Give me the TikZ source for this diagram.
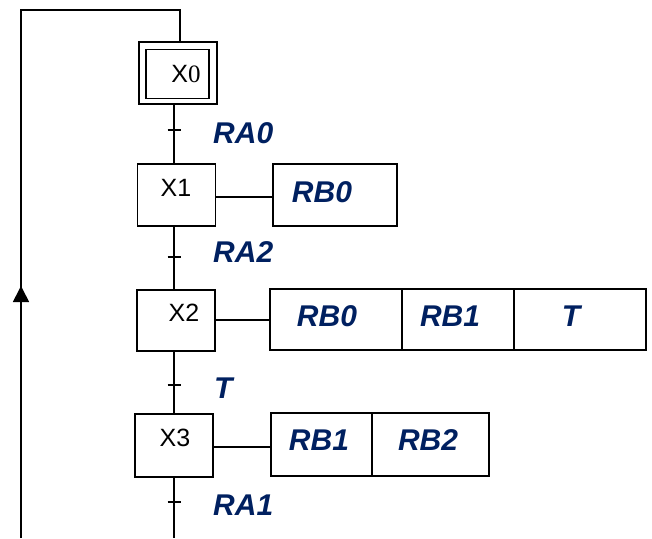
\documentclass[tikz,border=0pt]{standalone}
\usepackage{fontspec}
\setmainfont{Liberation Sans}
\newfontfamily\serifnum{Liberation Serif}
\usetikzlibrary{arrows.meta,calc}
\definecolor{navy}{RGB}{0,32,96}
\begin{document}
\begin{tikzpicture}[x=1pt,y=-1pt,
  box/.style={draw,line width=1.8pt,rectangle,inner sep=0pt},
  wire/.style={line width=1.7pt},
  steplbl/.style={font=\fontsize{25}{25}\selectfont,inner sep=0pt,anchor=center},
  cond/.style={font=\fontsize{30}{30}\selectfont\bfseries\itshape,text=navy,inner sep=0pt,anchor=west},
  act/.style={font=\fontsize{30}{30}\selectfont\bfseries\itshape,text=navy,inner sep=0pt,anchor=center}]
\useasboundingbox (0,0) rectangle (652,538);
% steps
\node[box,minimum width=78pt,minimum height=62pt] (x0o) at (178,73) {};
\node[box,minimum width=63pt,minimum height=49pt] (x0i) at (177.5,74) {};
\node[steplbl] (x0t) at (186,74) {X\serifnum 0};
\node[box,minimum width=78pt,minimum height=62pt] (x1) at (176.5,195) {};
\node[steplbl] (x1t) at (176,188) {X1};
\node[box,minimum width=78pt,minimum height=61pt] (x2) at (176,320.5) {};
\node[steplbl] (x2t) at (184,313) {X2};
\node[box,minimum width=78pt,minimum height=63pt] (x3) at (174,445.5) {};
\node[steplbl] (x3t) at (175,438) {X3};
% actions
\node[box,minimum width=124pt,minimum height=62pt] (a1) at (335,195) {};
\node[act] (a1t) at (322,192) {RB0};
\node[box,minimum width=132pt,minimum height=61pt] (a2a) at (336,319.5) {};
\node[box,minimum width=112pt,minimum height=61pt] (a2b) at (458,319.5) {};
\node[box,minimum width=132pt,minimum height=61pt] (a2c) at (580,319.5) {};
\node[act] (a2at) at (327,316) {RB0};
\node[act] (a2bt) at (450,316) {RB1};
\node[act] (a2ct) at (571,316) {T};
\node[box,minimum width=101pt,minimum height=63pt] (a3a) at (321.5,444.5) {};
\node[box,minimum width=117pt,minimum height=63pt] (a3b) at (430.5,444.5) {};
\node[act] (a3at) at (319,440) {RB1};
\node[act] (a3bt) at (428,440) {RB2};
% transitions
\coordinate (t0) at (174,130);
\coordinate (t1) at (174,257);
\coordinate (t2) at (174,385);
\coordinate (t3) at (174,502);
\coordinate (bot) at (174,538);
\coordinate (lb) at (21,538);
\coordinate (lt) at (21,10);
\coordinate (rt) at (180,10);
\coordinate (arr) at (21,286);
\draw[wire] (x0o.south -| t0) -- (x1.north -| t0);
\draw[wire] (x1.south -| t1) -- (x2.north -| t1);
\draw[wire] (x2.south -| t2) -- (x3.north -| t2);
\draw[wire] (x3.south -| t3) -- (bot);
\foreach \t in {t0,t1,t2,t3} \draw[line width=1.4pt] ($(\t)+(-6.5,0)$) -- ($(\t)+(6.5,0)$);
\node[cond] (c0) at (213,133) {RA0};
\node[cond] (c1) at (213,252) {RA2};
\node[cond] (c2) at (214,388) {T};
\node[cond] (c3) at (213,505) {RA1};
% loop
\draw[wire] (lb) -- (lt) -- (rt) -- (x0o.north -| rt);
\draw[wire,-{Triangle[length=16pt,width=16pt]}] (21,330) -- (arr);
% action links
\draw[wire] (x1.east |- 0,197) -- (a1.west |- 0,197);
\draw[wire] (x2.east |- 0,320) -- (a2a.west |- 0,320);
\draw[wire] (x3.east |- 0,447) -- (a3a.west |- 0,447);
\end{tikzpicture}
\end{document}
